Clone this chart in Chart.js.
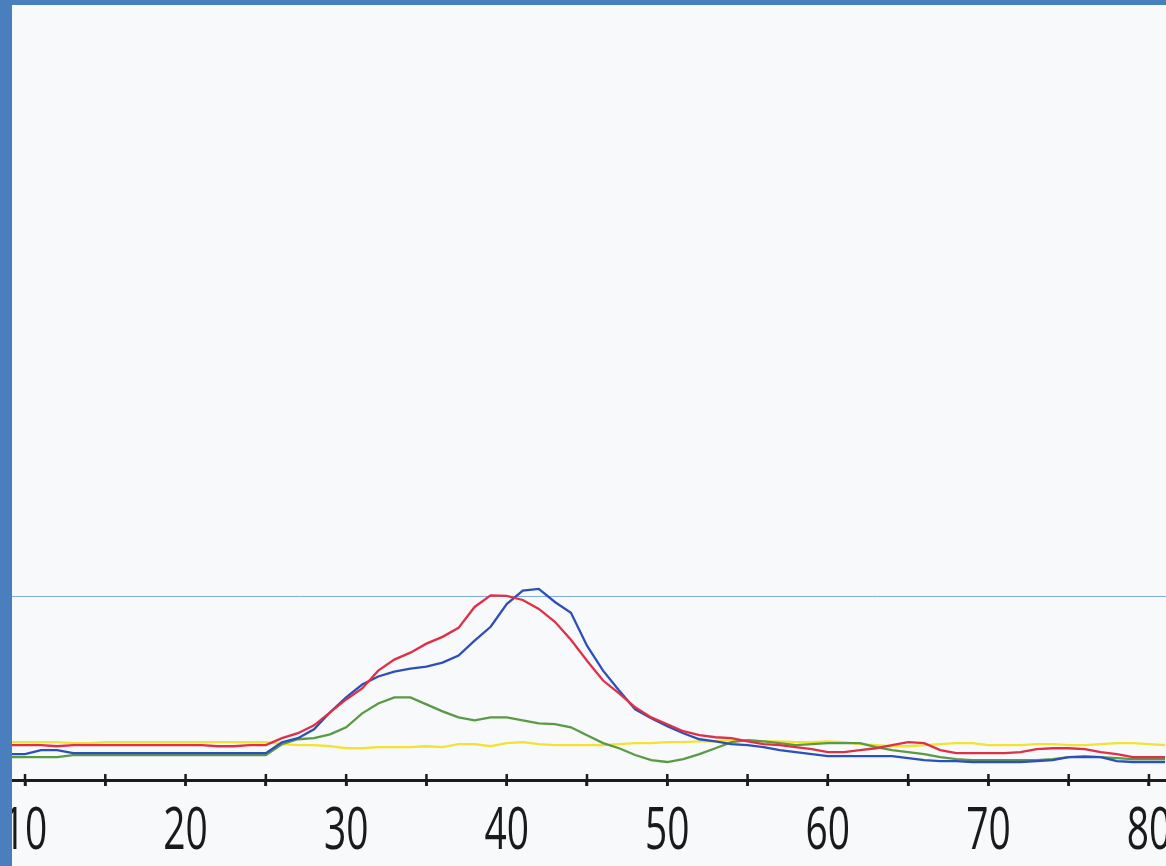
<!DOCTYPE html>
<html>
<head>
<meta charset="utf-8">
<script src="https://cdn.jsdelivr.net/npm/chart.js@4.4.1/dist/chart.umd.min.js"></script>
<style>
  html, body { margin: 0; padding: 0; }
  body { width: 1166px; height: 866px; background: #4a7fbd; overflow: hidden; position: relative; }
  #wrap { position: absolute; left: 12px; top: 5px; width: 1154px; height: 861px; background: #f8f9fb; }
  canvas { display: block; }
</style>
</head>
<body>
<div id="wrap"><canvas id="chart" width="1154" height="861"></canvas></div>
<script>
// elution position (x) and detector response of each trace
const positions = [];
for (let p = 9; p <= 81; p++) positions.push(p);

const redTrace = [
  19.0, 19.0, 19.0, 18.4, 19.0, 19.0, 19.0, 19.0, 19.0, 19.0, 19.0, 19.0, 19.0, 18.4, 18.4, 19.0, 19.0,
  22.8, 25.5, 29.8, 36.9, 43.9, 49.9, 59.6, 65.6, 69.4, 74.3, 78.0, 82.9, 94.3, 100.6, 100.3, 98.1,
  93.2, 86.2, 76.4, 65.0, 54.2, 47.2, 39.6, 34.1, 30.4, 26.6, 24.4, 23.3, 22.8, 21.1, 19.5,
  19.0, 17.9, 16.8, 15.2, 15.2, 16.3, 17.3, 19.0, 20.6, 20.1, 16.3, 14.6, 14.6, 14.6, 14.6, 15.2,
  16.8, 17.3, 17.3, 16.8, 15.2, 14.1, 12.5, 12.5, 12.5
];
const blueTrace = [
  14.1, 14.1, 16.3, 16.3, 14.6, 14.6, 14.6, 14.6, 14.6, 14.6, 14.6, 14.6, 14.6, 14.6, 14.6, 14.6, 14.6,
  20.6, 22.8, 27.6, 36.9, 45.0, 52.0, 56.4, 59.1, 60.7, 61.8, 64.0, 67.8, 75.9, 83.5, 95.9, 103.2,
  104.1, 97.0, 91.1, 73.2, 59.6, 48.8, 38.5, 33.6, 29.3, 25.5, 22.2, 21.1, 19.5, 19.0, 17.9,
  16.3, 15.2, 14.1, 13.0, 13.0, 13.0, 13.0, 13.0, 11.9, 10.8, 10.3, 10.3, 9.8, 9.8, 9.8, 9.8,
  10.3, 10.8, 12.5, 12.5, 12.5, 10.3, 9.8, 9.8, 9.8
];
const greenTrace = [
  12.5, 12.5, 12.5, 12.5, 13.6, 13.6, 13.6, 13.6, 13.6, 13.6, 13.6, 13.6, 13.6, 13.6, 13.6, 13.6, 13.6,
  19.5, 22.2, 22.8, 24.9, 28.7, 36.3, 41.7, 45.0, 45.0, 41.2, 37.4, 34.1, 32.5, 34.1, 34.1, 32.5,
  30.9, 30.4, 28.7, 24.4, 20.1, 17.3, 13.6, 10.8, 9.8, 11.4, 14.1, 17.3, 20.6, 21.7, 21.1,
  20.1, 19.0, 19.5, 20.1, 20.1, 20.1, 17.9, 16.3, 15.2, 14.1, 12.5, 11.4, 10.8, 10.8, 10.8, 10.8,
  10.8, 11.4, 12.5, 13.0, 12.5, 11.9, 11.4, 11.4, 11.4
];
const yellowTrace = [
  20.6, 20.6, 20.6, 20.6, 20.1, 20.1, 20.6, 20.6, 20.6, 20.6, 20.6, 20.6, 20.6, 20.6, 20.6, 20.6, 20.6,
  19.5, 19.0, 19.0, 18.4, 17.3, 17.3, 17.9, 17.9, 17.9, 18.4, 17.9, 19.5, 19.5, 18.4, 20.1, 20.6,
  19.5, 19.0, 19.0, 19.0, 19.0, 19.5, 20.1, 20.1, 20.6, 20.6, 21.1, 21.1, 21.7, 21.7, 21.1,
  21.1, 20.6, 20.6, 21.1, 20.6, 19.5, 19.0, 18.4, 18.4, 19.0, 19.5, 20.1, 20.1, 19.0, 19.0, 19.0,
  19.5, 19.5, 19.0, 19.0, 19.5, 20.1, 20.1, 19.5, 19.0
];
const referenceLevel = 100;
const tickValues = [10, 15, 20, 25, 30, 35, 40, 45, 50, 55, 60, 65, 70, 75, 80];
const xMin = 9.19;
const xMax = 81.06;
const yMax = 422.3;

const toPoints = (ys) => ys.map((y, i) => ({ x: positions[i], y: y }));

const traceStyle = (color) => ({
  borderColor: color,
  borderWidth: 2.3,
  pointRadius: 0,
  tension: 0,
  fill: false,
});

// short tick marks that cross the axis line
const tickCross = {
  id: "tickCross",
  afterDraw(chart) {
    const scale = chart.scales.x;
    const ctx = chart.ctx;
    const y0 = chart.chartArea.bottom;
    ctx.save();
    ctx.strokeStyle = "#1c1c1c";
    ctx.lineWidth = 2.5;
    scale.ticks.forEach((t, i) => {
      const px = scale.getPixelForTick(i);
      ctx.beginPath();
      ctx.moveTo(px, y0 - 6);
      ctx.lineTo(px, y0 + 6);
      ctx.stroke();
    });
    ctx.restore();
  },
};

// tick labels in a condensed face (squeezed horizontally)
const condensedLabels = {
  id: "condensedLabels",
  afterDraw(chart) {
    const scale = chart.scales.x;
    const ctx = chart.ctx;
    const baseY = chart.chartArea.bottom + 69;
    ctx.save();
    ctx.font = "59px 'Open Sans', 'Liberation Sans', sans-serif";
    ctx.fillStyle = "#1a1a1a";
    ctx.textAlign = "center";
    ctx.textBaseline = "alphabetic";
    scale.ticks.forEach((t) => {
      if (t.value % 10 !== 0) return;
      const px = scale.getPixelForValue(t.value);
      ctx.save();
      ctx.translate(px, baseY);
      ctx.scale(0.66, 1);
      ctx.fillText(String(t.value), 0, 0);
      ctx.restore();
    });
    ctx.restore();
  },
};

new Chart(document.getElementById("chart"), {
  type: "line",
  data: {
    datasets: [
      { label: "red", data: toPoints(redTrace), ...traceStyle("#de3046") },
      { label: "blue", data: toPoints(blueTrace), ...traceStyle("#2d4fb8") },
      { label: "green", data: toPoints(greenTrace), ...traceStyle("#5a9a45") },
      { label: "yellow", data: toPoints(yellowTrace), ...traceStyle("#f2e232") },
      {
        label: "reference",
        data: [
          { x: xMin, y: referenceLevel },
          { x: xMax, y: referenceLevel },
        ],
        borderColor: "#7eaae2",
        borderWidth: 1,
        pointRadius: 0,
      },
    ],
  },
  options: {
    responsive: false,
    animation: false,
    layout: { padding: 0 },
    plugins: {
      legend: { display: false },
      tooltip: { enabled: false },
    },
    scales: {
      x: {
        type: "linear",
        min: xMin,
        max: xMax,
        afterBuildTicks: (scale) => {
          scale.ticks = tickValues.map((v) => ({ value: v }));
        },
        afterFit: (scale) => {
          scale.paddingLeft = 0;
          scale.paddingRight = 0;
          scale.height = 86;
        },
        grid: {
          drawOnChartArea: false,
          drawTicks: true,
          tickLength: 6,
          tickWidth: 2.5,
          tickColor: "#1c1c1c",
        },
        border: { display: true, color: "#1c1c1c", width: 3 },
        ticks: { display: false, autoSkip: false, maxRotation: 0 },
      },
      y: {
        display: false,
        min: 0,
        max: yMax,
      },
    },
  },
  plugins: [tickCross, condensedLabels],
});
</script>
</body>
</html>
